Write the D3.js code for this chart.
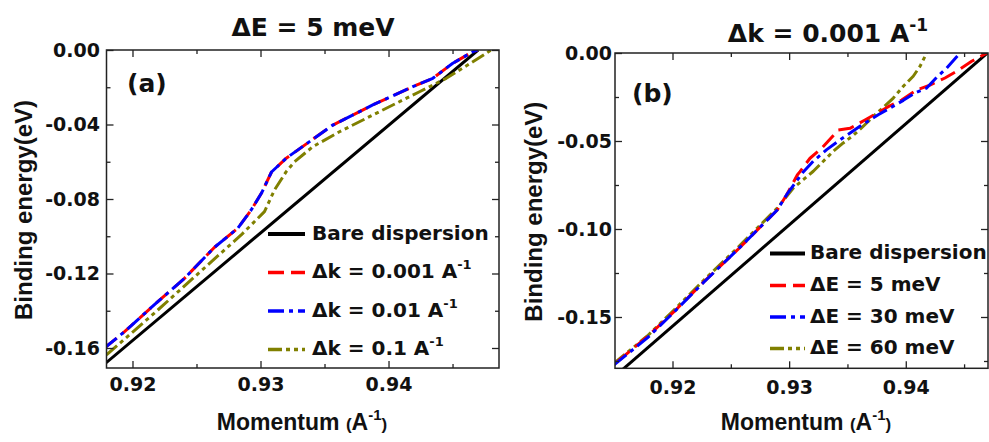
<!DOCTYPE html>
<html><head><meta charset="utf-8">
<script src="https://cdn.jsdelivr.net/npm/d3@7"></script>
<style>
html,body{margin:0;padding:0;background:#fff;}
svg{display:block;}
text{font-family:"DejaVu Sans",sans-serif;font-weight:bold;fill:#111;}
text.axt{font-family:"Liberation Sans",Arial,sans-serif;}
</style></head><body>
<svg id="chart" width="989" height="442"></svg>
<script>
// ---------- Panel (a) data : ΔE = 5 meV ----------
const kBareA = [0.9175, 0.9470];
const eBareA = [-0.1705, 0.0];
const kA_001 = [0.9178, 0.91938, 0.92198, 0.92406, 0.92641, 0.92823, 0.92927, 0.93008, 0.93086, 0.93201, 0.93383, 0.93565, 0.93877, 0.94190, 0.94346, 0.94502, 0.94659, 0.94695];
const eA_001 = [-0.1601, -0.1512, -0.1351, -0.1226, -0.1059, -0.0957, -0.0859, -0.0768, -0.0655, -0.0581, -0.0492, -0.0403, -0.0295, -0.0197, -0.0152, -0.0071, -0.0009, 0.0];
const kA_01 = [0.9178, 0.91938, 0.92198, 0.92406, 0.92641, 0.92823, 0.92927, 0.93008, 0.93086, 0.93201, 0.93383, 0.93565, 0.93877, 0.94190, 0.94346, 0.94502, 0.94659, 0.94695];
const eA_01 = [-0.1601, -0.1512, -0.1351, -0.1226, -0.1059, -0.0957, -0.0859, -0.0768, -0.0655, -0.0581, -0.0492, -0.0403, -0.0295, -0.0197, -0.0152, -0.0071, -0.0009, 0.0];
const kA_1 = [0.91797, 0.92198, 0.92588, 0.92849, 0.93031, 0.93109, 0.93201, 0.93266, 0.93409, 0.93617, 0.93877, 0.94242, 0.94451, 0.94659, 0.94802];
const eA_1 = [-0.1637, -0.1396, -0.1154, -0.0993, -0.0868, -0.0752, -0.0653, -0.0600, -0.0519, -0.0439, -0.0349, -0.0224, -0.0152, -0.0063, 0.0];

// ---------- Panel (b) data : Δk = 0.001 A^-1 ----------
const kBareB = [0.9150, 0.9470];
const eBareB = [-0.1840, 0.0];
const kB_5 = [0.91527, 0.91784, 0.92013, 0.92270, 0.92556, 0.92670, 0.92898, 0.92979, 0.93070, 0.93093, 0.93179, 0.93279, 0.93421, 0.93522, 0.93650, 0.93850, 0.93965, 0.94093, 0.94207, 0.94336, 0.94436, 0.94565, 0.94696];
const eB_5 = [-0.1754, -0.1612, -0.1470, -0.1299, -0.1119, -0.1044, -0.0892, -0.0805, -0.0693, -0.0674, -0.0598, -0.0541, -0.0438, -0.0428, -0.0381, -0.0305, -0.0267, -0.0210, -0.0182, -0.0142, -0.0104, -0.0047, 0.0];
const kB_30 = [0.91498, 0.91784, 0.92013, 0.92270, 0.92556, 0.92898, 0.92979, 0.93121, 0.93207, 0.93322, 0.93408, 0.93493, 0.93607, 0.93764, 0.93979, 0.94079, 0.94179, 0.94265, 0.94351, 0.94465];
const eB_30 = [-0.1773, -0.1619, -0.1472, -0.1301, -0.1119, -0.0892, -0.0805, -0.0676, -0.0615, -0.0549, -0.0507, -0.0468, -0.0416, -0.0351, -0.0269, -0.0227, -0.0199, -0.0138, -0.0085, 0.0];
const kB_60 = [0.91498, 0.91784, 0.92013, 0.92270, 0.92556, 0.92727, 0.92898, 0.93036, 0.93121, 0.93207, 0.93293, 0.93378, 0.93464, 0.93550, 0.93636, 0.93721, 0.93807, 0.93893, 0.93979, 0.94064, 0.94122, 0.94179];
const eB_60 = [-0.1763, -0.1608, -0.1460, -0.1290, -0.1108, -0.0994, -0.0881, -0.0767, -0.0720, -0.0672, -0.0615, -0.0559, -0.0511, -0.0468, -0.0416, -0.0360, -0.0309, -0.0256, -0.0189, -0.0132, -0.0076, 0.0];

// ---------- axes / ticks ----------
const xDomainA = [0.91797, 0.94863];
const yDomainA = [-0.17074, 0];
const xDomainB = [0.91507, 0.94705];
const yDomainB = [-0.17915, 0];
const xMajorTicks = [0.92, 0.93, 0.94];
const xMinorTicks = [0.925, 0.935, 0.945];
const yMajorA = [0, -0.04, -0.08, -0.12, -0.16];
const yMinorA = [-0.02, -0.06, -0.10, -0.14];
const yMajorB = [0, -0.05, -0.10, -0.15];
const yMinorB = [-0.025, -0.075, -0.125, -0.175];

// ---------- texts ----------
const titleA = "ΔE = 5 meV";
const titleB = ["Δk = 0.001 A", "-1"];
const legendA = ["Bare dispersion", "Δk = 0.001 A", "Δk = 0.01 A", "Δk = 0.1 A"];
const legendB = ["Bare dispersion", "ΔE = 5 meV", "ΔE = 30 meV", "ΔE = 60 meV"];
const yLabel = "Binding energy(eV)";

const zip = (k, e) => k.map((v, i) => [v, e[i]]);

const styles = {
  bare: {color: "#000000", dash: null, width: 3},
  red: {color: "#ff0000", dash: "16,7", width: 3},
  blue: {color: "#0000ff", dash: "16,5,4,5", width: 3},
  olive: {color: "#808000", dash: "14,4,4,4,4,4", width: 3}
};

const svg = d3.select("#chart");

function panel(cfg) {
  const g = svg.append("g");
  const x = d3.scaleLinear().domain(cfg.xDomain).range([cfg.left, cfg.right]);
  const y = d3.scaleLinear().domain(cfg.yDomain).range([cfg.bottom, cfg.top]);
  const clipId = "clip" + cfg.id;
  svg.append("clipPath").attr("id", clipId).append("rect")
    .attr("x", cfg.left).attr("y", cfg.top)
    .attr("width", cfg.right - cfg.left).attr("height", cfg.bottom - cfg.top);

  const line = d3.line().x(d => x(d[0])).y(d => y(d[1]));
  const lines = g.append("g").attr("clip-path", `url(#${clipId})`);
  cfg.series.forEach(s => {
    const st = styles[s.style];
    lines.append("path").datum(zip(s.k, s.e))
      .attr("d", line).attr("fill", "none")
      .attr("stroke", st.color).attr("stroke-width", st.width)
      .attr("stroke-dasharray", st.dash)
      .attr("stroke-linejoin", "round");
  });

  const fmtY = d => Math.abs(d) < 1e-9 ? "0.00" : d.toFixed(2);
  const fmtX = d => d.toFixed(2);
  function styleAxis(a) {
    a.select(".domain").remove();
    a.attr("font-family", null).attr("font-size", null);
    a.selectAll("line").attr("stroke", "#222").attr("stroke-width", 1.3);
    a.selectAll("text").style("font-size", "19px").attr("fill", "#111");
  }
  g.append("g").attr("transform", `translate(0,${cfg.bottom})`)
    .call(d3.axisBottom(x).tickValues(xMajorTicks).tickFormat(fmtX).tickSize(-7).tickPadding(cfg.xPad)).call(styleAxis);
  g.append("g").attr("transform", `translate(0,${cfg.bottom})`)
    .call(d3.axisBottom(x).tickValues(xMinorTicks).tickFormat("").tickSize(-4)).call(styleAxis);
  g.append("g").attr("transform", `translate(0,${cfg.top})`)
    .call(d3.axisTop(x).tickValues(xMajorTicks).tickFormat("").tickSize(-7)).call(styleAxis);
  g.append("g").attr("transform", `translate(0,${cfg.top})`)
    .call(d3.axisTop(x).tickValues(xMinorTicks).tickFormat("").tickSize(-4)).call(styleAxis);
  g.append("g").attr("transform", `translate(${cfg.left},0)`)
    .call(d3.axisLeft(y).tickValues(cfg.yMajor).tickFormat(fmtY).tickSize(-7).tickPadding(cfg.yPad)).call(styleAxis);
  g.append("g").attr("transform", `translate(${cfg.left},0)`)
    .call(d3.axisLeft(y).tickValues(cfg.yMinor).tickFormat("").tickSize(-4)).call(styleAxis);
  g.append("g").attr("transform", `translate(${cfg.right},0)`)
    .call(d3.axisRight(y).tickValues(cfg.yMajor).tickFormat("").tickSize(-7)).call(styleAxis);
  g.append("g").attr("transform", `translate(${cfg.right},0)`)
    .call(d3.axisRight(y).tickValues(cfg.yMinor).tickFormat("").tickSize(-4)).call(styleAxis);

  g.append("rect").attr("x", cfg.left).attr("y", cfg.top)
    .attr("width", cfg.right - cfg.left).attr("height", cfg.bottom - cfg.top)
    .attr("fill", "none").attr("stroke", "#222").attr("stroke-width", 1.5);

  g.append("text").attr("x", cfg.tag[1]).attr("y", cfg.tag[2])
    .style("font-size", "25px").text(cfg.tag[0]);

  g.append("text").attr("class", "axt")
    .attr("transform", `translate(${cfg.yLabelX},${(cfg.top + cfg.bottom) / 2 + 1}) rotate(-90)`)
    .attr("text-anchor", "middle").style("font-size", "24px").text(yLabel);

  const xl = g.append("text").attr("class", "axt").attr("x", cfg.xLabelX).attr("y", 430)
    .attr("text-anchor", "middle").style("font-size", "23px");
  xl.append("tspan").text("Momentum ");
  xl.append("tspan").style("font-size", "17px").text("(");
  xl.append("tspan").text("A");
  xl.append("tspan").style("font-size", "15px").attr("dy", -10).text("-1");
  xl.append("tspan").style("font-size", "17px").attr("dy", 10).text(")");

  cfg.legend.forEach((lab, i) => {
    const ly = cfg.legY[i];
    const st = styles[cfg.legStyles[i]];
    g.append("line").attr("x1", cfg.legX[0]).attr("x2", cfg.legX[1])
      .attr("y1", ly).attr("y2", ly)
      .attr("stroke", st.color).attr("stroke-width", i === 0 ? 4 : 3.5)
      .attr("stroke-dasharray", st.dash);
    const t = g.append("text").attr("x", cfg.legX[2]).attr("y", ly + 5.5).style("font-size", "20px");
    t.append("tspan").text(lab);
    if (cfg.legSup && i > 0) {
      t.append("tspan").style("font-size", "13px").attr("dy", -9).text("-1");
    }
  });
}

panel({
  id: "A", left: 106.5, right: 499, top: 50, bottom: 368,
  xDomain: xDomainA, yDomain: yDomainA, yMajor: yMajorA, yMinor: yMinorA,
  xPad: 10, yPad: 6.5,
  series: [
    {k: kBareA, e: eBareA, style: "bare"},
    {k: kA_1, e: eA_1, style: "olive"},
    {k: kA_001, e: eA_001, style: "red"},
    {k: kA_01, e: eA_01, style: "blue"}
  ],
  tag: ["(a)", 127, 92],
  yLabelX: 32, xLabelX: 302,
  legend: legendA, legSup: true, legStyles: ["bare", "red", "blue", "olive"],
  legY: [234, 272.5, 311, 349.5], legX: [268, 305, 312]
});

panel({
  id: "B", left: 615, right: 988, top: 53, bottom: 368.3,
  xDomain: xDomainB, yDomain: yDomainB, yMajor: yMajorB, yMinor: yMinorB,
  xPad: 12, yPad: 3,
  series: [
    {k: kBareB, e: eBareB, style: "bare"},
    {k: kB_60, e: eB_60, style: "olive"},
    {k: kB_5, e: eB_5, style: "red"},
    {k: kB_30, e: eB_30, style: "blue"}
  ],
  tag: ["(b)", 632, 102],
  yLabelX: 542, xLabelX: 806,
  legend: legendB, legSup: false, legStyles: ["bare", "red", "blue", "olive"],
  legY: [253.5, 285.5, 317, 348.5], legX: [770, 805, 810]
});

svg.append("text").attr("x", 313).attr("y", 36).attr("text-anchor", "middle")
  .style("font-size", "25px").text(titleA);
const tb = svg.append("text").attr("x", 828).attr("y", 42).attr("text-anchor", "middle")
  .style("font-size", "25px");
tb.append("tspan").text(titleB[0]);
tb.append("tspan").style("font-size", "17px").attr("dy", -11).text(titleB[1]);
</script>
</body></html>
